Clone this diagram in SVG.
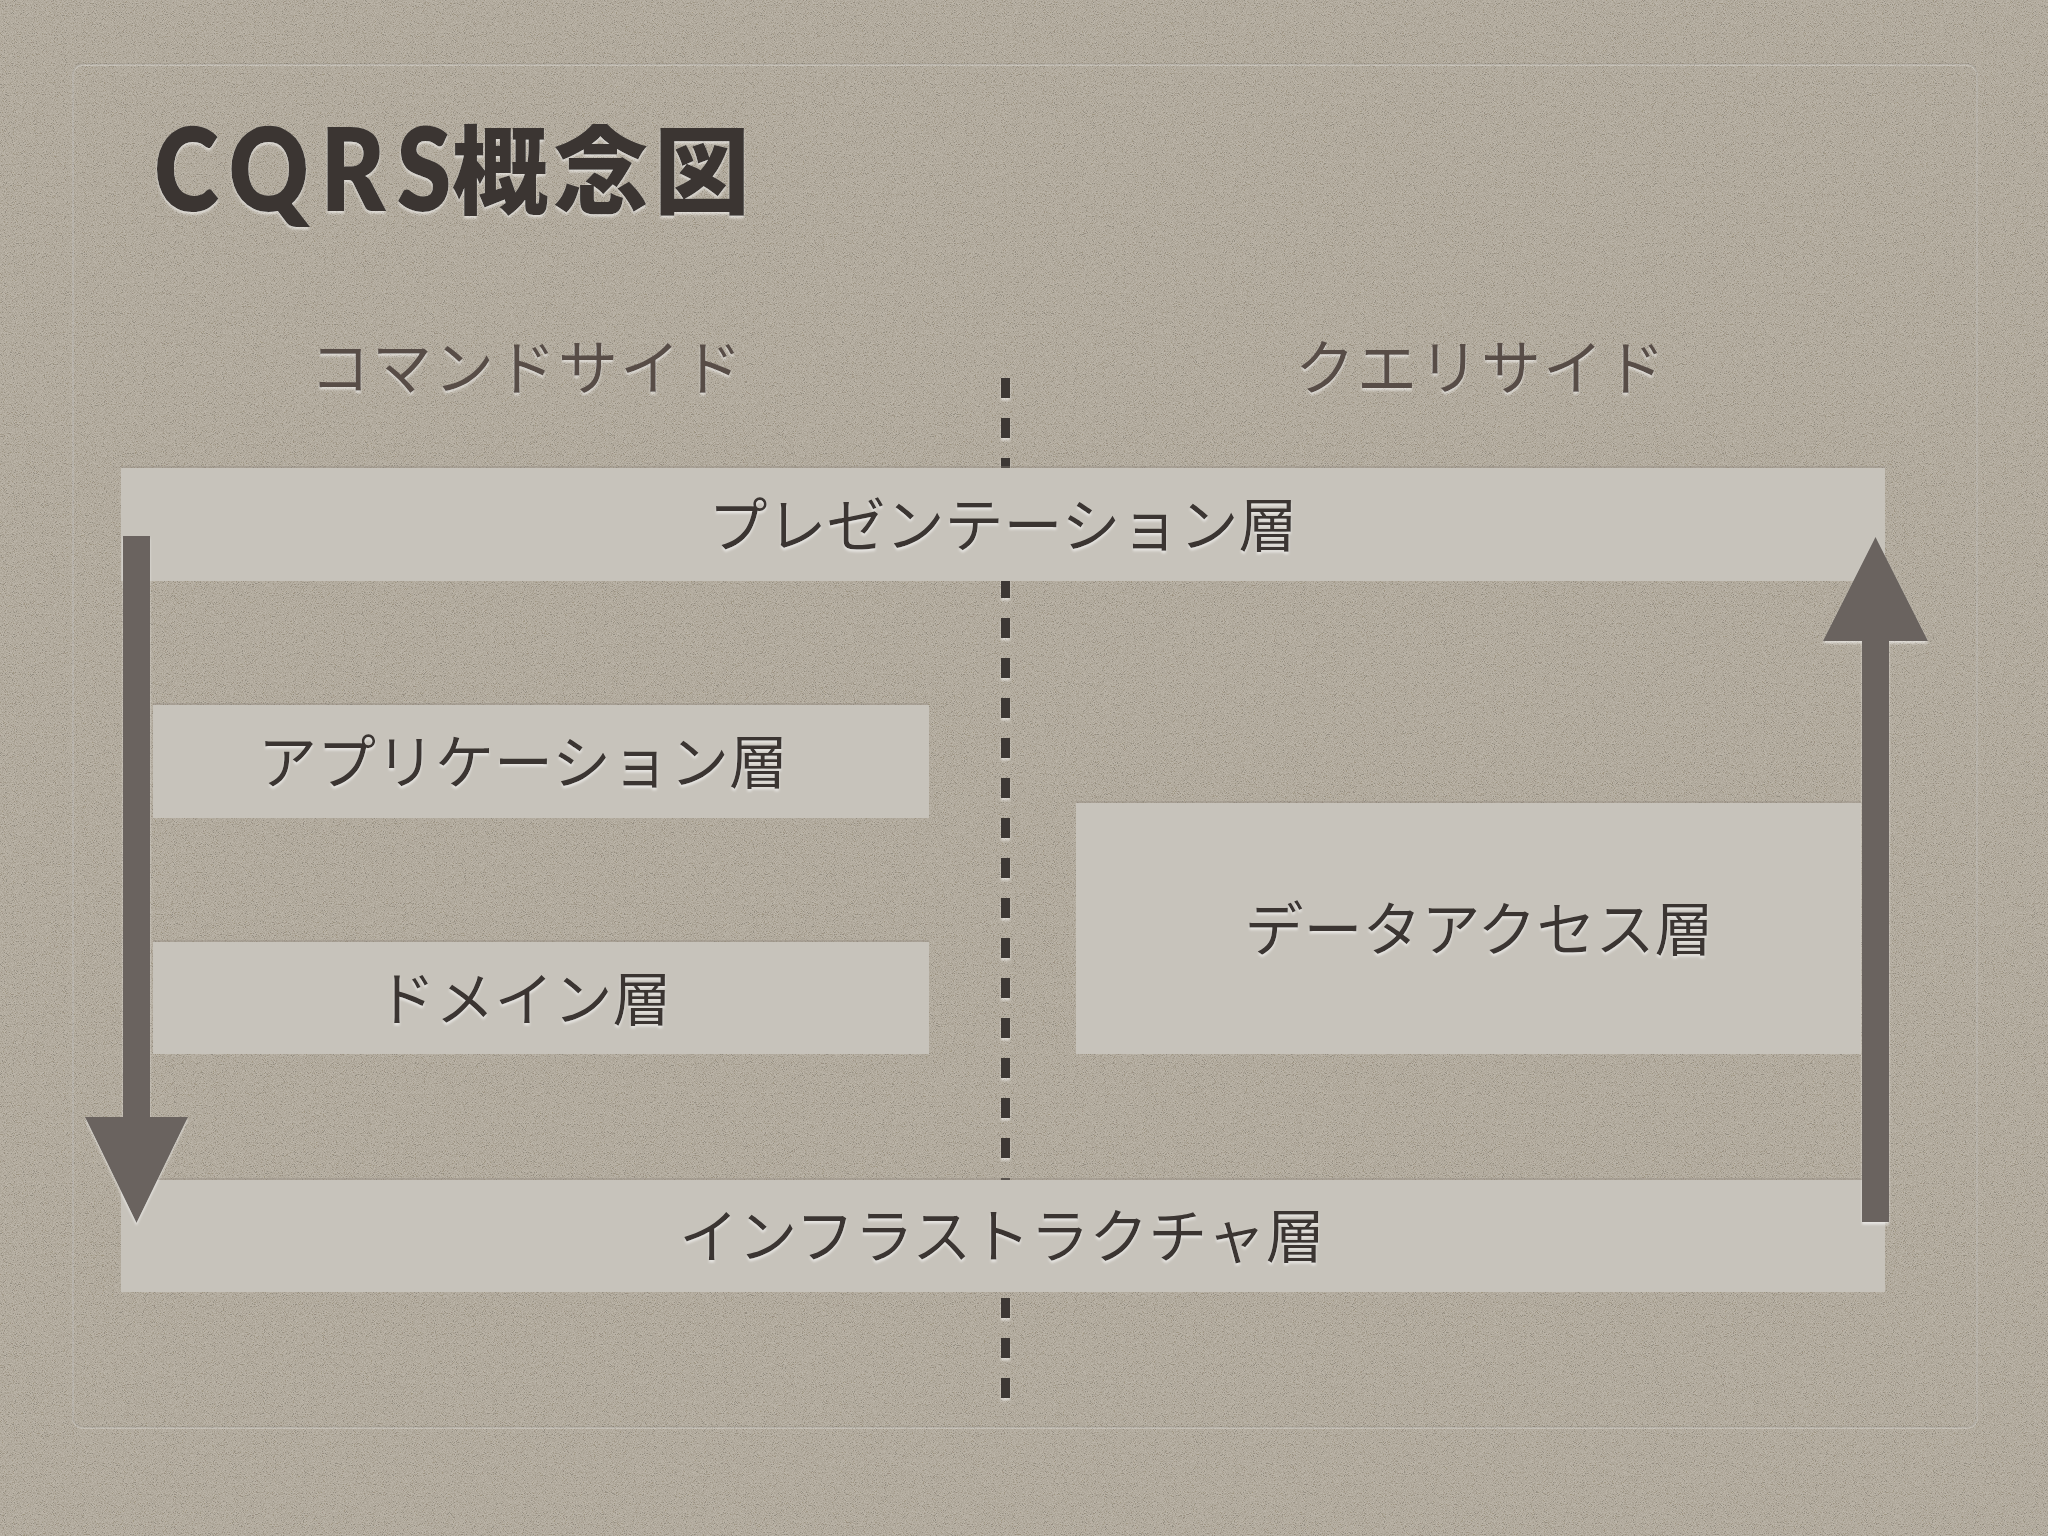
<svg xmlns="http://www.w3.org/2000/svg" width="2048" height="1536" viewBox="0 0 2048 1536">
  <defs>
    <filter id="noise" filterUnits="userSpaceOnUse" x="0" y="0" width="2048" height="1536">
      <feTurbulence type="fractalNoise" baseFrequency="1.1" numOctaves="2" seed="7" result="t"/>
      <feColorMatrix in="t" type="matrix" values="2.2 0 0 0 -0.6  2.2 0 0 0 -0.62  2.2 0 0 0 -0.66  0 0 0 0 1"/>
    </filter>
    <filter id="emboss" filterUnits="userSpaceOnUse" x="0" y="0" width="2048" height="1536">
      <feDropShadow dx="0" dy="2.5" stdDeviation="1" flood-color="#ffffff" flood-opacity="0.55"/>
    </filter>
    <style>
      .bar { fill: #c7c3bb; }
      .barEdge { stroke: #8f887d; stroke-width: 2; stroke-opacity: 0.35; }
      .lbl { font-family: "Noto Sans CJK JP", "Noto Sans", sans-serif; font-size: 59px; fill: #3b3531; text-anchor: middle; }
      .side { font-family: "Noto Sans CJK JP", "Noto Sans", sans-serif; font-size: 60px; fill: #584d47; text-anchor: middle; letter-spacing: 2px; }
      .arrow { fill: #6a645f; }
      .dash { stroke: #3d3835; stroke-width: 9; stroke-dasharray: 20 20; fill: none; }
    </style>
  </defs>

  <!-- background -->
  <rect x="0" y="0" width="2048" height="1536" fill="#b1a99b"/>
  <rect x="0" y="0" width="2048" height="1536" filter="url(#noise)" opacity="0.16"/>

  <!-- panel -->
  <g id="panel">
    <rect x="73" y="65" width="1904" height="1363" rx="10" fill="none" stroke="#ffffff" stroke-opacity="0.25" stroke-width="2"/>
    <rect x="73" y="64" width="1904" height="1363" rx="10" fill="none" stroke="#000000" stroke-opacity="0.09" stroke-width="1.5"/>
  </g>

  <!-- title -->
  <g id="title" filter="url(#emboss)">
    <text transform="translate(154,211) scale(0.85,1)" x="0" y="0" font-family="Lato, 'Liberation Sans', sans-serif" font-weight="800" font-size="116" fill="#3a3532" textLength="350" lengthAdjust="spacing">CQRS</text>
    <text x="452" y="206" font-family="'Noto Sans CJK JP', sans-serif" font-weight="900" font-size="96" fill="#3a3532" textLength="298" lengthAdjust="spacing">概念図</text>
  </g>

  <!-- side headers -->
  <g id="side-command" filter="url(#emboss)">
    <text class="side" x="527" y="390">コマンドサイド</text>
  </g>
  <g id="side-query" filter="url(#emboss)">
    <text class="side" x="1481" y="390">クエリサイド</text>
  </g>

  <!-- divider -->
  <g id="divider" filter="url(#emboss)">
    <path class="dash" d="M1005.5,378 V1398"/>
  </g>

  <!-- layers -->
  <g id="node-presentation">
    <rect class="bar" x="121" y="468" width="1764" height="113"/>
    <line class="barEdge" x1="121" y1="467" x2="1885" y2="467"/>
    <text class="lbl" x="1003" y="547" filter="url(#emboss)">プレゼンテーション層</text>
  </g>
  <g id="node-application">
    <rect class="bar" x="153" y="705" width="776" height="113"/>
    <line class="barEdge" x1="153" y1="704" x2="929" y2="704"/>
    <text class="lbl" x="523" y="784" filter="url(#emboss)">アプリケーション層</text>
  </g>
  <g id="node-domain">
    <rect class="bar" x="153" y="942" width="776" height="112"/>
    <line class="barEdge" x1="153" y1="941" x2="929" y2="941"/>
    <text class="lbl" x="524" y="1021" filter="url(#emboss)">ドメイン層</text>
  </g>
  <g id="node-dataaccess">
    <rect class="bar" x="1076" y="803" width="785" height="251"/>
    <line class="barEdge" x1="1076" y1="802" x2="1861" y2="802"/>
    <text class="lbl" x="1479" y="951" filter="url(#emboss)">データアクセス層</text>
  </g>
  <g id="node-infrastructure">
    <rect class="bar" x="121" y="1180" width="1764" height="112"/>
    <line class="barEdge" x1="121" y1="1179" x2="1885" y2="1179"/>
    <text class="lbl" x="1002" y="1258" filter="url(#emboss)">インフラストラクチャ層</text>
  </g>

  <!-- connectors -->
  <g id="connectors" filter="url(#emboss)">
    <path id="arrow-command" class="arrow" d="M123,536 H150 V1117 H188 L136.5,1223 L85,1117 H123 Z"/>
    <path id="arrow-query" class="arrow" d="M1862,1222 V641 H1823 L1875.5,537 L1928,641 H1889 V1222 Z"/>
  </g>
</svg>
